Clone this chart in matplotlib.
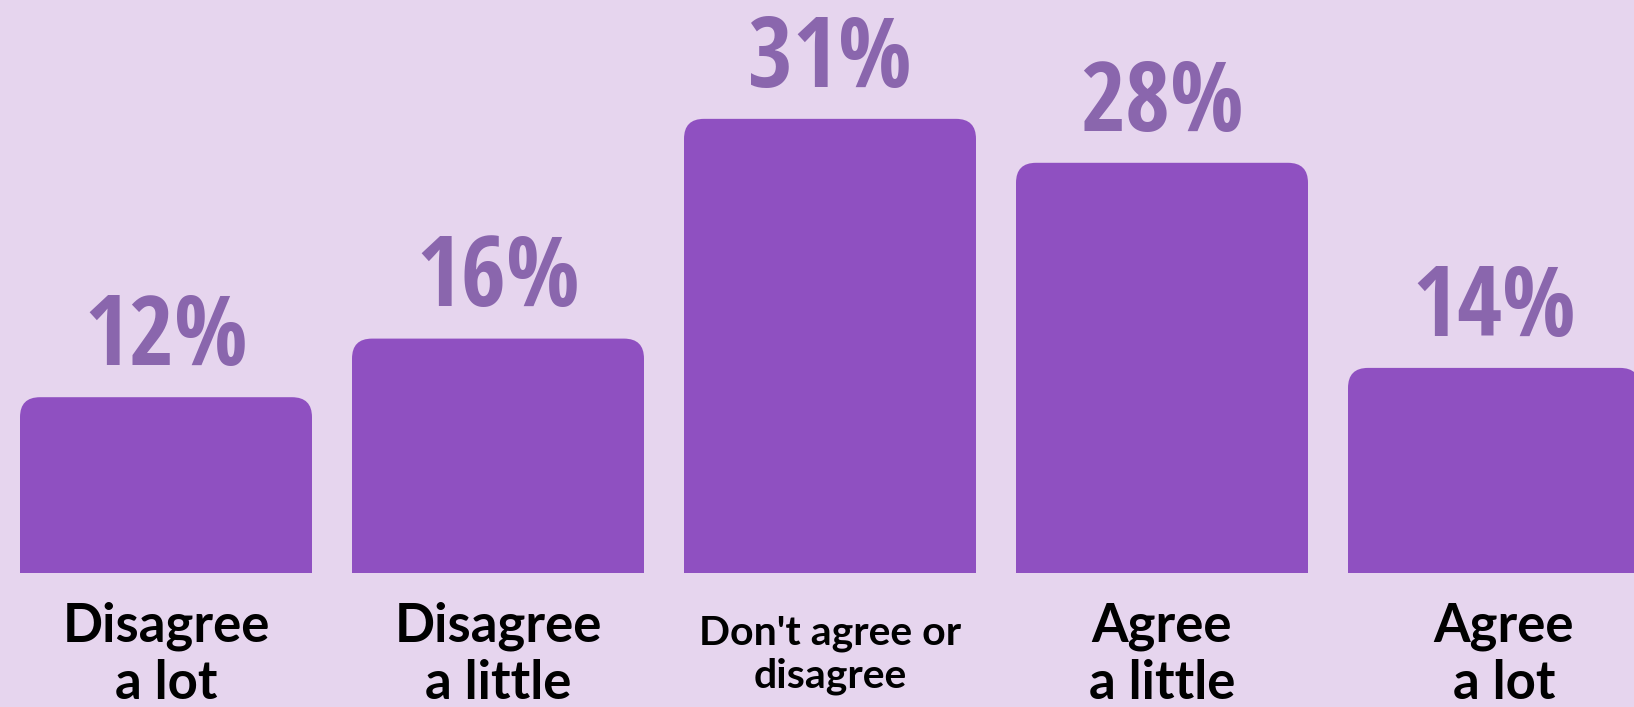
import matplotlib
matplotlib.use("Agg")
import matplotlib.pyplot as plt
from matplotlib.patches import FancyBboxPatch, Rectangle

categories = ["Disagree\na lot", "Disagree\na little", "Don't agree or\ndisagree",
              "Agree\na little", "Agree\na lot"]
values = [12, 16, 31, 28, 14]
value_labels = ["12%", "16%", "31%", "28%", "14%"]
label_sizes = [38, 38, 29.5, 38, 38]

BG = "#e6d5ee"
BAR = "#8f50c1"
PCT = "#8a66ad"

W, H, DPI = 1634, 707, 100
fig = plt.figure(figsize=(W / DPI, H / DPI), dpi=DPI, facecolor=BG)
ax = fig.add_axes([0, 0, 1, 1])
ax.set_facecolor(BG)

# pixel layout: bar pitch 332 px, first bar centre at 166 px, baseline 134 px from bottom
px_per_x = 332.0
px_per_y = 14.65
ax.set_xlim(-166 / px_per_x, (W - 166) / px_per_x)
ax.set_ylim(-134 / px_per_y, (H - 134) / px_per_y)
ax.axis("off")

bar_w = 292 / px_per_x
radius = 20 / px_per_x
aspect = px_per_x / px_per_y

for i, v in enumerate(values):
    x0 = i - bar_w / 2
    ax.add_patch(FancyBboxPatch((x0, 0), bar_w, v,
                                boxstyle=f"round,pad=0,rounding_size={radius}",
                                mutation_aspect=aspect, facecolor=BAR,
                                edgecolor="none"))
    # square off the bottom corners
    ax.add_patch(Rectangle((x0, 0), bar_w, v / 2, facecolor=BAR, edgecolor="none"))
    ax.text(i, v + 2.2, value_labels[i], ha="center", va="baseline",
            fontsize=70, fontweight="bold", fontstretch="condensed", color=PCT,
            family=["Open Sans Condensed", "DejaVu Sans"])
    ax.text(i + (0.03 if i == 4 else 0), -5.6, categories[i], ha="center", va="center",
            fontsize=label_sizes[i], fontweight="bold", color="black",
            family=["Lato", "DejaVu Sans"], linespacing=1.2)

fig.savefig("out.png", dpi=DPI, facecolor=BG)
